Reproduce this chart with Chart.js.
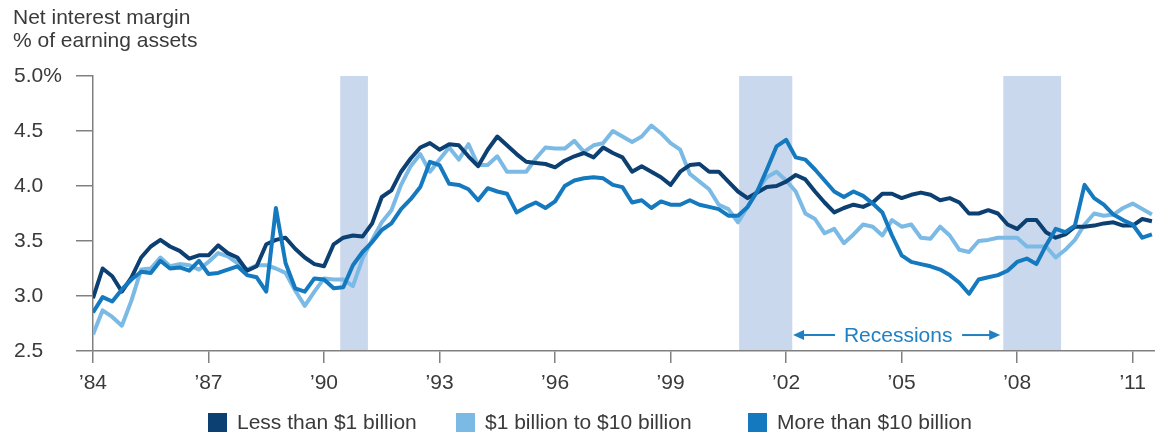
<!DOCTYPE html>
<html>
<head>
<meta charset="utf-8">
<script src="https://cdn.jsdelivr.net/npm/chart.js@4/dist/chart.umd.min.js"></script>
<style>
html,body{margin:0;padding:0;background:#fff;}
#wrap{position:relative;width:1155px;height:436px;overflow:hidden;font-family:"Liberation Sans",Arial,Helvetica,sans-serif;color:#3a3a3a;}
#chart{position:absolute;left:0;top:0;}
#title{position:absolute;left:13px;top:5px;font-size:21px;line-height:23px;white-space:nowrap;}
.lg-box{position:absolute;width:19px;height:19px;top:413px;}
.lg-text{position:absolute;top:410px;font-size:21px;line-height:24px;white-space:nowrap;}
</style>
</head>
<body>
<div id="wrap">
  <canvas id="chart" width="1155" height="436"></canvas>
  <div id="title">Net interest margin<br>% of earning assets</div>
  <div id="legend"></div>
</div>
<script>
// ---------- DATA ----------
const quarters = [
"1984Q1","1984Q2","1984Q3","1984Q4","1985Q1","1985Q2","1985Q3","1985Q4",
"1986Q1","1986Q2","1986Q3","1986Q4","1987Q1","1987Q2","1987Q3","1987Q4",
"1988Q1","1988Q2","1988Q3","1988Q4","1989Q1","1989Q2","1989Q3","1989Q4",
"1990Q1","1990Q2","1990Q3","1990Q4","1991Q1","1991Q2","1991Q3","1991Q4",
"1992Q1","1992Q2","1992Q3","1992Q4","1993Q1","1993Q2","1993Q3","1993Q4",
"1994Q1","1994Q2","1994Q3","1994Q4","1995Q1","1995Q2","1995Q3","1995Q4",
"1996Q1","1996Q2","1996Q3","1996Q4","1997Q1","1997Q2","1997Q3","1997Q4",
"1998Q1","1998Q2","1998Q3","1998Q4","1999Q1","1999Q2","1999Q3","1999Q4",
"2000Q1","2000Q2","2000Q3","2000Q4","2001Q1","2001Q2","2001Q3","2001Q4",
"2002Q1","2002Q2","2002Q3","2002Q4","2003Q1","2003Q2","2003Q3","2003Q4",
"2004Q1","2004Q2","2004Q3","2004Q4","2005Q1","2005Q2","2005Q3","2005Q4",
"2006Q1","2006Q2","2006Q3","2006Q4","2007Q1","2007Q2","2007Q3","2007Q4",
"2008Q1","2008Q2","2008Q3","2008Q4","2009Q1","2009Q2","2009Q3","2009Q4",
"2010Q1","2010Q2","2010Q3","2010Q4","2011Q1","2011Q2","2011Q3"
];

const lessThan1B = [
2.98,3.25,3.18,3.04,3.17,3.35,3.45,3.51,3.45,3.41,
3.34,3.37,3.37,3.46,3.39,3.35,3.23,3.27,3.47,3.51,
3.53,3.43,3.35,3.29,3.27,3.47,3.53,3.55,3.54,3.66,
3.90,3.96,4.13,4.25,4.35,4.39,4.33,4.38,4.37,4.27,
4.18,4.33,4.45,4.37,4.29,4.22,4.21,4.20,4.17,4.23,
4.27,4.30,4.26,4.35,4.30,4.26,4.13,4.18,4.13,4.08,
4.01,4.13,4.19,4.20,4.13,4.13,4.04,3.95,3.89,3.94,
3.99,4.00,4.04,4.10,4.06,3.95,3.85,3.76,3.80,3.83,
3.81,3.85,3.93,3.93,3.89,3.92,3.94,3.92,3.87,3.89,
3.85,3.75,3.75,3.78,3.75,3.65,3.61,3.69,3.69,3.58,
3.53,3.56,3.63,3.63,3.64,3.66,3.67,3.64,3.64,3.70,3.68
];

const from1to10B = [
2.65,2.87,2.81,2.73,2.96,3.24,3.25,3.35,3.27,3.29,
3.28,3.24,3.31,3.39,3.36,3.30,3.24,3.28,3.28,3.25,
3.21,3.05,2.91,3.04,3.16,3.15,3.15,3.09,3.34,3.51,
3.67,3.78,4.01,4.18,4.29,4.13,4.24,4.35,4.24,4.38,
4.19,4.19,4.27,4.13,4.13,4.13,4.25,4.35,4.34,4.34,
4.41,4.31,4.37,4.39,4.50,4.45,4.40,4.45,4.55,4.48,
4.39,4.33,4.11,4.04,3.97,3.83,3.79,3.67,3.81,3.96,
4.08,4.13,4.05,3.95,3.75,3.70,3.57,3.61,3.48,3.56,
3.65,3.63,3.55,3.69,3.63,3.65,3.53,3.52,3.63,3.55,
3.42,3.40,3.50,3.51,3.53,3.53,3.53,3.45,3.45,3.45,
3.35,3.42,3.51,3.65,3.75,3.73,3.74,3.80,3.84,3.79,3.74
];

const moreThan10B = [
2.85,2.99,2.95,3.06,3.15,3.22,3.21,3.32,3.25,3.26,
3.23,3.32,3.20,3.21,3.24,3.27,3.19,3.17,3.04,3.80,
3.30,3.07,3.04,3.16,3.15,3.07,3.08,3.28,3.40,3.49,
3.60,3.66,3.79,3.88,3.99,4.22,4.19,4.02,4.01,3.97,
3.87,3.98,3.95,3.93,3.76,3.81,3.85,3.80,3.86,4.00,
4.05,4.07,4.08,4.07,4.01,3.99,3.85,3.87,3.80,3.86,
3.83,3.83,3.87,3.83,3.81,3.79,3.73,3.73,3.81,3.95,
4.15,4.36,4.42,4.26,4.24,4.15,4.05,3.95,3.90,3.95,
3.91,3.84,3.76,3.55,3.37,3.31,3.29,3.27,3.24,3.19,
3.12,3.02,3.15,3.17,3.19,3.23,3.31,3.34,3.29,3.46,
3.61,3.58,3.64,4.01,3.89,3.83,3.74,3.69,3.65,3.53,3.56
];

const seriesNames = ["Less than $1 billion", "$1 billion to $10 billion", "More than $10 billion"];
const tickYears = [1984, 1987, 1990, 1993, 1996, 1999, 2002, 2005, 2008, 2011];
const tickLabels = ["\u201984","\u201987","\u201990","\u201993","\u201996","\u201999","\u201902","\u201905","\u201908","\u201911"];
const yTicks = [2.5, 3.0, 3.5, 4.0, 4.5, 5.0];
const yTickLabels = ["2.5", "3.0", "3.5", "4.0", "4.5", "5.0%"];
const recessionStart = [1990.42, 2000.78, 2007.64];
const recessionEnd = [1991.14, 2002.16, 2009.14];
const annotationText = "Recessions";

// ---------- STYLE / LAYOUT ----------
const FONT = '"Liberation Sans", Arial, Helvetica, sans-serif';
const TEXT = '#3a3a3a';
const AXIS = '#808080';
const COLORS = ['#0c3f72', '#7cbae6', '#1479be'];
const BAND = '#cad8ee';
const ANNOT = '#2080c4';
const legendLeft = [208, 456, 748];
const annot = { y: 2.645, textX: 2004.91, leftHead: 2002.18, leftTail: 2003.27, rightTail: 2006.57, rightHead: 2007.56 };

const toYear = s => parseInt(s.slice(0, 4), 10) + (parseInt(s.slice(5), 10) - 1) / 4;
const xs = quarters.map(toYear);
const pts = arr => arr.map((v, i) => ({ x: xs[i], y: v }));

// legend
const lg = document.getElementById('legend');
seriesNames.forEach((name, i) => {
  const b = document.createElement('div');
  b.className = 'lg-box';
  b.style.left = legendLeft[i] + 'px';
  b.style.background = COLORS[i];
  const t = document.createElement('div');
  t.className = 'lg-text';
  t.style.left = (legendLeft[i] + 29) + 'px';
  t.textContent = name;
  lg.appendChild(b); lg.appendChild(t);
});

const recessionPlugin = {
  id: 'recessions',
  beforeDatasetsDraw(chart) {
    const { ctx, chartArea, scales } = chart;
    ctx.save();
    ctx.fillStyle = BAND;
    recessionStart.forEach((s, i) => {
      const x1 = scales.x.getPixelForValue(s);
      const x2 = scales.x.getPixelForValue(recessionEnd[i]);
      ctx.fillRect(x1, chartArea.top, x2 - x1, chartArea.bottom - chartArea.top - 1);
    });
    ctx.restore();
  },
  afterDatasetsDraw(chart) {
    const { ctx, scales } = chart;
    const y = scales.y.getPixelForValue(annot.y);
    ctx.save();
    ctx.fillStyle = ANNOT;
    ctx.strokeStyle = ANNOT;
    ctx.lineWidth = 2;
    ctx.font = '21px ' + FONT;
    ctx.textAlign = 'center';
    ctx.textBaseline = 'middle';
    ctx.fillText(annotationText, scales.x.getPixelForValue(annot.textX), y + 1);
    const arrow = (tail, head) => {
      const xt = scales.x.getPixelForValue(tail);
      const xh = scales.x.getPixelForValue(head);
      const dir = xh > xt ? 1 : -1;
      ctx.beginPath();
      ctx.moveTo(xt, y);
      ctx.lineTo(xh - dir * 8, y);
      ctx.stroke();
      ctx.beginPath();
      ctx.moveTo(xh, y);
      ctx.lineTo(xh - dir * 11, y - 5);
      ctx.lineTo(xh - dir * 11, y + 5);
      ctx.closePath();
      ctx.fill();
    };
    arrow(annot.leftTail, annot.leftHead);
    arrow(annot.rightTail, annot.rightHead);
    ctx.restore();
  }
};

new Chart(document.getElementById('chart').getContext('2d'), {
  type: 'line',
  data: {
    datasets: [
      { label: seriesNames[2], data: pts(moreThan10B), borderColor: COLORS[2], backgroundColor: COLORS[2], order: 0 },
      { label: seriesNames[0], data: pts(lessThan1B), borderColor: COLORS[0], backgroundColor: COLORS[0], order: 1 },
      { label: seriesNames[1], data: pts(from1to10B), borderColor: COLORS[1], backgroundColor: COLORS[1], order: 2 }
    ]
  },
  options: {
    responsive: false,
    animation: false,
    layout: { padding: { left: 14, top: 76, right: 0, bottom: 0 } },
    elements: {
      point: { radius: 0, hoverRadius: 0 },
      line: { borderWidth: 4, tension: 0, borderJoinStyle: 'round', borderCapStyle: 'butt', fill: false }
    },
    plugins: { legend: { display: false }, tooltip: { enabled: false } },
    scales: {
      x: {
        type: 'linear',
        min: 1984,
        max: 2011.58,
        afterBuildTicks: s => { s.ticks = tickYears.map(v => ({ value: v })); },
        afterFit: s => { s.height = 85; },
        ticks: {
          autoSkip: false, maxRotation: 0,
          callback: v => tickLabels[tickYears.indexOf(v)],
          font: { family: FONT, size: 21 }, color: TEXT, padding: 8
        },
        grid: { drawOnChartArea: false, drawTicks: true, tickLength: 12, color: AXIS, lineWidth: 1.5 },
        border: { display: true, color: AXIS, width: 1.5 }
      },
      y: {
        min: 2.5,
        max: 5,
        afterBuildTicks: s => { s.ticks = yTicks.map(v => ({ value: v })); },
        afterFit: s => { s.width = 79; },
        ticks: {
          crossAlign: 'far',
          callback: v => yTickLabels[yTicks.indexOf(v)],
          font: { family: FONT, size: 21 }, color: TEXT, padding: 4
        },
        grid: { drawOnChartArea: false, drawTicks: true, tickLength: 17, color: AXIS, lineWidth: 1.5 },
        border: { display: true, color: AXIS, width: 1.5 }
      }
    }
  },
  plugins: [recessionPlugin]
});
</script>
</body>
</html>
